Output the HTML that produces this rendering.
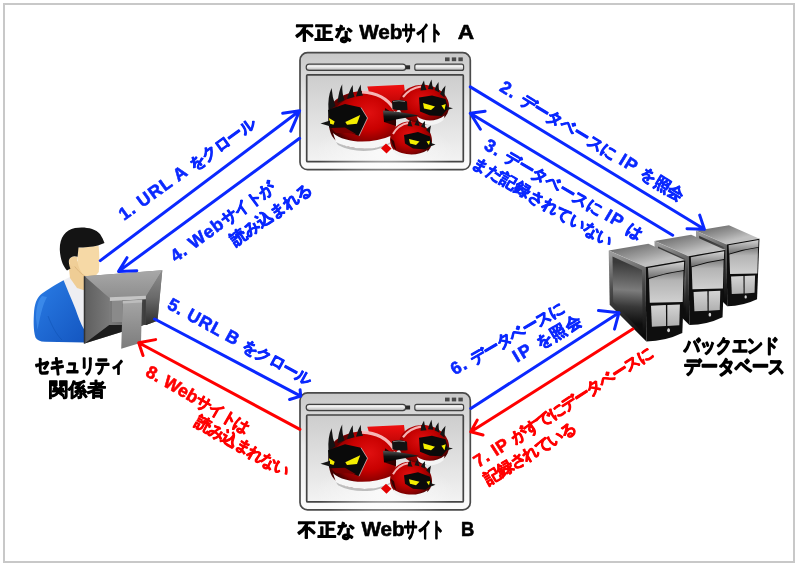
<!DOCTYPE html>
<html lang="ja"><head><meta charset="utf-8">
<style>
html,body{margin:0;padding:0;background:#fff;}
body{width:800px;height:568px;overflow:hidden;position:relative;font-family:"Liberation Sans",sans-serif;}
svg{position:absolute;left:0;top:0;will-change:transform;}
.t{font-family:"Liberation Sans",sans-serif;font-weight:bold;}
.lat{letter-spacing:1.0px;stroke-width:0.6px;font-size:1.1em;}
.kana{letter-spacing:-0.6px;}
.h .lat{font-size:1.1em;letter-spacing:1.5px;}
.L{stroke-width:0.6px;}
</style></head>
<body>
<svg width="800" height="568" viewBox="0 0 800 568">
<defs>
  <linearGradient id="frameG" x1="0" y1="0" x2="0" y2="1">
    <stop offset="0" stop-color="#c8c8c8"/><stop offset="0.2" stop-color="#d8d8d8"/><stop offset="0.45" stop-color="#ebebeb"/><stop offset="1" stop-color="#fcfcfc"/>
  </linearGradient>
  <linearGradient id="panelG" x1="0" y1="0" x2="0" y2="1">
    <stop offset="0" stop-color="#cdcdcd"/><stop offset="1" stop-color="#f3f3f3"/>
  </linearGradient>
  <linearGradient id="barG" x1="0" y1="0" x2="0" y2="1">
    <stop offset="0" stop-color="#dadada"/><stop offset="0.35" stop-color="#f2f2f2"/><stop offset="0.7" stop-color="#d2d2d2"/><stop offset="1" stop-color="#9c9c9c"/>
  </linearGradient>
  <radialGradient id="redG" cx="0.45" cy="0.38" r="0.62">
    <stop offset="0" stop-color="#e01010"/><stop offset="0.5" stop-color="#c00000"/><stop offset="0.85" stop-color="#800000"/><stop offset="1" stop-color="#400000"/>
  </radialGradient>
  <radialGradient id="redG1" cx="0.6" cy="0.38" r="0.6">
    <stop offset="0" stop-color="#e01010"/><stop offset="0.5" stop-color="#c80000"/><stop offset="0.85" stop-color="#880000"/><stop offset="1" stop-color="#440000"/>
  </radialGradient>
  <linearGradient id="blockG" x1="0" y1="0" x2="0" y2="1">
    <stop offset="0" stop-color="#f01010"/><stop offset="1" stop-color="#a80000"/>
  </linearGradient>
  <linearGradient id="hornG" x1="0" y1="0" x2="0" y2="1">
    <stop offset="0" stop-color="#555"/><stop offset="0.5" stop-color="#111"/><stop offset="1" stop-color="#000"/>
  </linearGradient>

  <linearGradient id="jacketG" x1="0" y1="0" x2="1" y2="1">
    <stop offset="0" stop-color="#2a7de6"/><stop offset="1" stop-color="#1456c0"/>
  </linearGradient>
  <linearGradient id="monTopG" x1="0" y1="0" x2="0" y2="1">
    <stop offset="0" stop-color="#a8a8a8"/><stop offset="1" stop-color="#8e8e8e"/>
  </linearGradient>
  <linearGradient id="monLeftG" x1="0" y1="0" x2="1" y2="0">
    <stop offset="0" stop-color="#5e5e5e"/><stop offset="1" stop-color="#7a7a7a"/>
  </linearGradient>
  <linearGradient id="standG" x1="0" y1="0" x2="0" y2="1">
    <stop offset="0" stop-color="#a6a6a6"/><stop offset="1" stop-color="#7c7c7c"/>
  </linearGradient>
  <linearGradient id="srvTopG" gradientUnits="userSpaceOnUse" x1="-10" y1="-22" x2="-5" y2="-2">
    <stop offset="0" stop-color="#767676"/><stop offset="0.6" stop-color="#a0a0a0"/><stop offset="1" stop-color="#c0c0c0"/>
  </linearGradient>
  <linearGradient id="srvLeftG" gradientUnits="userSpaceOnUse" x1="-30" y1="-14" x2="-10" y2="70">
    <stop offset="0" stop-color="#9a9a9a"/><stop offset="0.4" stop-color="#4a4a4a"/><stop offset="1" stop-color="#0a0a0a"/>
  </linearGradient>
  <linearGradient id="srvLeft2G" gradientUnits="userSpaceOnUse" x1="-16" y1="-4" x2="-20" y2="56">
    <stop offset="0" stop-color="#3a3a3a"/><stop offset="0.45" stop-color="#7c7c7c"/><stop offset="0.72" stop-color="#383838"/><stop offset="1" stop-color="#0e0e0e"/>
  </linearGradient>
  <linearGradient id="srvLipG" x1="0" y1="0" x2="0" y2="1">
    <stop offset="0" stop-color="#d4d4d4"/><stop offset="0.45" stop-color="#a6a6a6"/><stop offset="1" stop-color="#6e6e6e"/>
  </linearGradient>
  <linearGradient id="srvPanG" x1="0" y1="0" x2="0" y2="1">
    <stop offset="0" stop-color="#7e7e7e"/><stop offset="0.3" stop-color="#b4b4b4"/><stop offset="1" stop-color="#d0d0d0"/>
  </linearGradient>
  <linearGradient id="srvPan2G" x1="0" y1="0" x2="0" y2="1">
    <stop offset="0" stop-color="#d4d4d4"/><stop offset="1" stop-color="#b0b0b0"/>
  </linearGradient>
  <g id="srv">
    <path d="M-36.8 -16.5 L2.9 -23.3 L39.7 -6.8 L0 0 Z" fill="url(#srvTopG)"/>
    <path d="M-34 -15 L0 0 L39.7 -6.8" fill="none" stroke="#d0d0d0" stroke-width="0.9" opacity="0.8"/>
    <path d="M-36.8 -16.5 L0 0 L0.9 74.5 L-35.8 37.7 Z" fill="url(#srvLeftG)"/>
    <path d="M-33 -10.5 L-3.5 3 L-2.8 66 L-32.3 35 Z" fill="url(#srvLeft2G)"/>
    <path d="M0 0 L39.7 -6.8 L36.8 65.9 Q20 74 0.9 74.5 Z" fill="#0e0e0e"/>
    <path d="M2.5 1 L38.6 -5.4 L38.3 3 Q20 5.5 3 11 Z" fill="url(#srvLipG)"/>
    <path d="M3.5 12 Q20 6.5 38 4 L37.2 35 L4.3 35.6 Z" fill="url(#srvPanG)"/>
    <path d="M5.5 38.6 L20.4 38 L20.6 59 L6.4 59.6 Z" fill="url(#srvPan2G)"/>
    <path d="M21.8 37.9 L34.4 37.3 L33.8 58.2 L21.8 58.9 Z" fill="url(#srvPan2G)"/>
    <ellipse cx="23.1" cy="63.2" rx="1.4" ry="2" fill="#d8d8d8"/>
  </g>
  <radialGradient id="panelHL">
    <stop offset="0" stop-color="#fff" stop-opacity="0.7"/><stop offset="1" stop-color="#fff" stop-opacity="0"/>
  </radialGradient>
  <linearGradient id="monRightG" x1="0" y1="0" x2="0" y2="1">
    <stop offset="0" stop-color="#8e8e8e"/><stop offset="0.5" stop-color="#6a6a6a"/><stop offset="1" stop-color="#2e2e2e"/>
  </linearGradient>
  <linearGradient id="monInG" x1="0" y1="0" x2="1" y2="0">
    <stop offset="0" stop-color="#7c7c7c"/><stop offset="0.5" stop-color="#666"/><stop offset="1" stop-color="#3a3a3a"/>
  </linearGradient>
</defs>

<!-- outer frame -->
<rect x="4" y="4" width="790" height="558" fill="#fff" stroke="#c8c8c8" stroke-width="2"/>

<!-- ===== window A ===== -->
<g id="winA">
  <rect x="300" y="52.7" width="170.3" height="117" rx="7.5" fill="url(#frameG)" stroke="#4a4a4a" stroke-width="1.7"/>
  <rect x="445" y="57.4" width="4.6" height="3.8" fill="#4a4a4a"/>
  <rect x="451.8" y="57.4" width="4.4" height="3.8" fill="#4a4a4a"/>
  <rect x="458.4" y="57.4" width="4.4" height="3.8" fill="#4a4a4a"/>
  <rect x="306.2" y="64.2" width="99.5" height="6.2" rx="3" fill="url(#barG)" stroke="#404040" stroke-width="1.2"/>
  <rect x="405.8" y="65.3" width="4.3" height="4" fill="#2a2a2a"/>
  <rect x="414.8" y="64.2" width="48.8" height="6.2" rx="2" fill="url(#barG)" stroke="#404040" stroke-width="1.2"/>
  <rect x="306.7" y="74.8" width="156.6" height="86.9" rx="1" fill="url(#panelG)" stroke="#444" stroke-width="1.7"/>
  <ellipse cx="385" cy="152" rx="70" ry="30" fill="url(#panelHL)"/>
  <g id="monsters">
    <!-- red block behind -->
    <path d="M367.3 86.5 L404 84.7 L406 101 L396 112 L385 106 L372 102 Z" fill="url(#blockG)"/>
    <!-- M2 -->
    <g>
      <path d="M399 104 C399 92 410 85 422 84.7 C437 84.5 449 95 449 106 C449 117 440 124 426 124.5 C412 125 399 117 399 104 Z" fill="url(#redG)"/>
      <path d="M403 97 Q410 88 421 86.5" stroke="#ffd2d2" stroke-width="2.2" fill="none" opacity="0.85"/>
      <path d="M420.5 90.5 Q421.5 84 424 80.5 Q424.5 86 426.5 90 Z" fill="#141414"/>
      <path d="M428 89 Q429.5 83 431.5 79.5 Q432 85.5 433.5 89.5 Z" fill="#141414"/>
      <path d="M434.5 90 Q436 85 438.5 82 Q438.5 88 439.5 92.5 Z" fill="#141414"/>
      <path d="M440 94 Q442 89 445.5 85.5 Q444.5 92 444.5 97.5 Z" fill="#141414"/>
      <path d="M417 116.5 C425 122 436 122 444.5 115.5 L443.5 120 C436 126.5 425 126.5 418.5 121 Z" fill="#f4f4f4"/>
      <path d="M419 97.5 L432 95.5 L445.5 99 L448 108.5 L441.5 116 L430 115.5 L420 111.5 Z" fill="#0a0a0a"/>
      <path d="M423 103 L435 106.5 L431 110 L424 108.5 Z" fill="#f5ee00"/>
      <path d="M441.4 105.5 L445.8 104 L444.5 110 Z" fill="#f5ee00"/>
      <path d="M447 106.8 L453 108.3 L447 110 Z" fill="#141414"/>
    </g>
    <!-- M1 -->
    <g>
      <path d="M329 112 C330 100 345 92 362 91 C380 90 394 102 396 120 C397 135 388 146 372 148 C355 150 338 146 332 136 C328 128 328 118 329 112 Z" fill="url(#redG1)"/>
      <path d="M329.5 110 C333 101 343 95 352 93 L353 97 C345 99 338 104 333 112 Z" fill="#4a0000" opacity="0.7"/>
      <path d="M328.5 110.5 Q327.5 97 331.6 88.1 Q332.3 98 335.5 106 Z" fill="#141414"/>
      <path d="M337.5 103 Q338.5 91 342.2 84.2 Q342 94 344.5 100 Z" fill="#141414"/>
      <path d="M347 99 Q349.5 90 352.7 85 Q352.5 92 354.5 97 Z" fill="#141414"/>
      <path d="M356 96.5 Q358 89 360.7 84.6 Q360.5 91 363 95.5 Z" fill="#141414"/>
      <path d="M385 108 Q392 112 396 118 L396 126 Q390 124 384 122 Z" fill="#1a0000" opacity="0.85"/>
      <path d="M362 92 Q384 93 394 109" stroke="#ffd6d6" stroke-width="3.2" fill="none" opacity="0.85"/>
      <path d="M333 133 C345 143 370 145 393 135 L391.5 141.5 C380 150 355 152 336 142 Z" fill="#f6f6f6"/>
      <path d="M336 142 C355 152 380 150 391.5 141.5 L390 144 C378 152 355 154 338 145 Z" fill="#bdbdbd"/>
      <path d="M328 110 L345 104 L361 107.5 L367.5 118 L359 136 L347 131 L336 131 L329 127 Z" fill="#0a0a0a"/>
      <path d="M361 107.5 L367.5 118 L359 136" stroke="#e8e8e8" stroke-width="0.8" fill="none" opacity="0.8"/>
      <path d="M331 128 L345 127.5 L356 134 L347 133 L336 133 Z" fill="#7a0000"/>
      <path d="M345.3 122 L360.2 115 L357 123.8 L347 124.8 Z" fill="#f5ee00"/>
      <path d="M329 118 L334.7 121.5 L333.5 124.8 L329.5 123.5 Z" fill="#f5ee00"/>
      <path d="M320.5 123.5 L330 120.6 L330 126.2 Z" fill="#141414"/>
    </g>
    <!-- horn -->
    <path d="M392 101 Q398 99 407 101.5 L407.5 110 Q399 111 392.5 109 Z" fill="#121212"/>
    <path d="M393 101.5 Q399 100 405 101.5" stroke="#777" stroke-width="1" fill="none"/>
    <path d="M383 110.5 Q400 111.5 419 115.5 Q400 118.5 384 122 Z" fill="url(#hornG)"/>
    <!-- M3 -->
    <g>
      <path d="M381 148.3 L386 143.5 L391.5 148.5 L386.5 153.5 Z" fill="#e40000"/>
      <path d="M390 140 C390 129 399 121.5 410 121.5 C423 121.5 432 130 432 141 C432 151 423 157 411 157 C399 157 390 150 390 140 Z" fill="url(#redG)"/>
      <path d="M393 134 Q398 125 408 123" stroke="#ffd2d2" stroke-width="2" fill="none" opacity="0.85"/>
      <path d="M407.5 126 Q408.5 122 410.5 119.5 Q411 123.5 412.5 126.5 Z" fill="#141414"/>
      <path d="M414.5 125 Q416 121 418 118.5 Q418 122.5 419.5 126 Z" fill="#141414"/>
      <path d="M421 126.5 Q422.5 123 425 121 Q424.5 125 425.5 128.5 Z" fill="#141414"/>
      <path d="M426 130 Q428 127.5 431 125.5 Q430 129.5 430 133.5 Z" fill="#141414"/>
      <path d="M390.5 138 Q392 146 396 150 L394 141 Z" fill="#1a0000" opacity="0.8"/>
      <path d="M393.5 149 C402 155.5 418 156.5 427.5 150 L426.5 154 C418 159.5 402 159.5 395 153.5 Z" fill="#f4f4f4"/>
      <path d="M404 135 L418 132 L430 136.5 L432 145 L425.5 149.5 L413 148.5 L405 143.5 Z" fill="#0a0a0a"/>
      <path d="M409 139 L419.5 141.5 L416 145 L410 143.5 Z" fill="#f5ee00"/>
      <path d="M426.5 141.5 L430 140.8 L429 145 Z" fill="#f5ee00"/>
      <path d="M431 143 L435.5 144.5 L431 146.2 Z" fill="#141414"/>
    </g>
  </g>
</g>
<!-- ===== window B (copy) ===== -->
<use href="#winA" transform="translate(0,340.2)"/>

<!-- ===== person ===== -->
<g id="person">
  <!-- shirt -->
  <path d="M62 281 L70 277 L84.5 288 L84.5 330 C80 322 78 316 75.3 308.4 C71 298 67 289 62 281 Z" fill="#eeeef2"/>
  <!-- jacket -->
  <path d="M63.6 280.3 C55 285 47 290 42.4 293.3 C38 296 35 302 34.1 311 C33.5 320 33.2 330 35.5 337.5 C37 340 40 341.8 45 341.8 L84.5 342.5 L84.5 330 C80 322 78 316 75.3 308.4 C71 298 67 289 63.6 280.3 Z" fill="url(#jacketG)"/>
  <path d="M42 296 C38 300 36 308 36 318 L37.5 330 C40 318 42 306 47 297 Z" fill="#4c9af4" opacity="0.55"/>
  <path d="M48 316 C52 326 56 334 62 340" stroke="#0e4fb0" stroke-width="1" fill="none" opacity="0.5"/>
  <!-- neck -->
  <path d="M68.5 264 L77.5 261 L88 278 L86.5 291 L77 288 L70 278 Z" fill="#efcd95"/>
  <!-- face -->
  <path d="M77.5 248 L98.5 245.8 C99.5 252 99.5 262 98.8 272 C96 276 92 278.5 88 279.2 C82 275 78.5 268 77.5 262 Z" fill="#f6d9a6"/>
  <path d="M73 264 C77 270 81 274 86.5 277" stroke="#d9b27a" stroke-width="0.8" fill="none"/>
  <!-- ear -->
  <path d="M77.5 257 C72 255.5 68.5 258 69 262 C69.5 265.5 72.5 267 76.5 266.5 Z" fill="#f0cf98"/>
  <!-- hair -->
  <path d="M67 270.5 C63 266 60.5 260 59.8 250 C59.5 238 65 230 75 228 C84 226.5 95 228 100 234 C102 237 103.5 240 104.5 243 L98 245.5 C92 247 84 247.5 78.5 247.5 L77.6 256.8 C74 255.5 70.5 256.5 69 260 C68.5 263 69.5 266.5 70.5 268.5 Z" fill="#141414"/>
  <!-- monitor -->
  <path d="M84.5 276.2 L162.3 270.2 L157.5 320.7 L84.5 343.6 Z" fill="#7d7d7d"/>
  <path d="M84.5 276.2 L162.3 270.2 L145.9 296.4 L109.2 297.9 Z" fill="url(#monTopG)"/>
  <path d="M84.5 276.2 L109.2 297.9 L109.2 324.9 L84.5 343.6 Z" fill="url(#monLeftG)"/>
  <path d="M162.3 270.2 L157.5 320.7 L145.9 324.9 L145.9 296.4 Z" fill="url(#monRightG)"/>
  <path d="M109.2 324.9 L145.9 324.9 L157.5 320.7 L84.5 343.6 Z" fill="#1c1c1c"/>
  <rect x="109.2" y="297.9" width="36.7" height="27" fill="url(#monInG)"/>
  <rect x="112" y="300" width="10" height="22" fill="#8a8a8a"/>
  <path d="M84.5 276.2 L84.5 343.6" stroke="#333" stroke-width="1.5"/>
  <!-- stand -->
  <path d="M122.7 300.9 L142.1 299.8 L141 342.8 L121.2 348.8 Z" fill="url(#standG)"/>
  <path d="M109.9 297.2 L145.9 295.8 L145.9 299.3 L109.9 300.9 Z" fill="#c4c4c4"/>
  <path d="M122.7 300.9 L142.1 299.8 L142.1 302.5 L122.7 303.5 Z" fill="#bdbdbd"/>
</g>

<!-- ===== servers ===== -->
<g id="srvdefs" style="display:none"></g>
<use href="#srv" transform="translate(726.5,244.5) scale(0.83)"/>
<use href="#srv" transform="translate(688.5,256.2) scale(0.925)"/>
<use href="#srv" transform="translate(645.5,267.1)"/>

<!-- ===== arrows ===== -->
<g fill="none" stroke-width="3" stroke-linecap="round" stroke-linejoin="round">
  <g stroke="#0a28ff">
    <path d="M100.3 260.6 L299.6 110.8 M282.7 113.2 L299.6 110.8 L290.8 131.1"/>
    <path d="M299.6 138.3 L118.6 271.4 M127 257.7 L118.6 271.4 L136.8 270.7"/>
    <path d="M470.3 86.9 L704.4 229.3 M699.7 215.1 L704.4 229.3 L687 228.8"/>
    <path d="M672.7 235.2 L470.3 113.3 M485.1 111.2 L470.3 113.3 L480.4 129.2"/>
    <path d="M154.6 319 L300.7 396.1 M300.1 389.8 L300.7 396.1 L289.6 399.5"/>
    <path d="M470.8 408.5 L619 312.7 M598.5 310.6 L619 312.7 L614.5 329.1"/>
  </g>
  <g stroke="#ff0000">
    <path d="M299.9 429.4 L138.7 342.8 M155.6 339.6 L138.7 342.8 L143 355.5"/>
    <path d="M632.8 329.1 L470.8 431.8 M477.2 420.1 L470.8 431.8 L483 435"/>
  </g>
</g>

<!-- ===== text ===== -->
<g class="t" stroke-linejoin="round" style="paint-order:stroke">
<text transform="translate(123.9,221.1) rotate(-35.65)" font-size="16" fill="#0a28ff" stroke="#0a28ff" stroke-width="0.8" textLength="163.1" lengthAdjust="spacing"><tspan class="lat">1. URL A </tspan><tspan class="kana">をクロール</tspan></text>
<text transform="translate(175.7,262.8) rotate(-36.2)" font-size="16" fill="#0a28ff" stroke="#0a28ff" stroke-width="0.8" textLength="123.5" lengthAdjust="spacing"><tspan class="lat">4. Web</tspan><tspan class="kana">サイトが</tspan></text>
<text transform="translate(234.9,246.0) rotate(-34.52)" font-size="16" fill="#0a28ff" stroke="#0a28ff" stroke-width="0.8" textLength="94.7" lengthAdjust="spacing">読<tspan class="kana">み</tspan>込<tspan class="kana">まれる</tspan></text>
<text transform="translate(498.5,90.3) rotate(31.46)" font-size="16" fill="#0a28ff" stroke="#0a28ff" stroke-width="0.8" textLength="212.9" lengthAdjust="spacing"><tspan class="lat">2. </tspan><tspan class="kana">データベースに</tspan><tspan class="lat"> IP </tspan><tspan class="kana">を</tspan>照会</text>
<text transform="translate(483.0,148.5) rotate(30.28)" font-size="16" fill="#0a28ff" stroke="#0a28ff" stroke-width="0.8" textLength="180.1" lengthAdjust="spacing"><tspan class="lat">3. </tspan><tspan class="kana">データベースに</tspan><tspan class="lat"> IP </tspan><tspan class="kana">は</tspan></text>
<text transform="translate(471.4,165.9) rotate(30.54)" font-size="16" fill="#0a28ff" stroke="#0a28ff" stroke-width="0.8" textLength="159.1" lengthAdjust="spacing"><tspan class="kana">まだ</tspan>記録<tspan class="kana">されていない</tspan></text>
<text transform="translate(166.2,308.0) rotate(28.58)" font-size="16" fill="#0a28ff" stroke="#0a28ff" stroke-width="0.8" textLength="161.4" lengthAdjust="spacing"><tspan class="lat">5. URL B </tspan><tspan class="kana">をクロール</tspan></text>
<text transform="translate(454.8,375.6) rotate(-30.17)" font-size="16" fill="#0a28ff" stroke="#0a28ff" stroke-width="0.8" textLength="127.9" lengthAdjust="spacing"><tspan class="lat">6. </tspan><tspan class="kana">データベースに</tspan></text>
<text transform="translate(517.0,362.7) rotate(-30.54)" font-size="16" fill="#0a28ff" stroke="#0a28ff" stroke-width="0.8" textLength="76.1" lengthAdjust="spacing"><tspan class="lat">IP </tspan><tspan class="kana">を</tspan>照会</text>
<text transform="translate(144.6,375.3) rotate(30.02)" font-size="16" fill="#ff0000" stroke="#ff0000" stroke-width="0.8" textLength="116.5" lengthAdjust="spacing"><tspan class="lat">8. Web</tspan><tspan class="kana">サイトは</tspan></text>
<text transform="translate(194.1,425.1) rotate(29.37)" font-size="16" fill="#ff0000" stroke="#ff0000" stroke-width="0.8" textLength="105.0" lengthAdjust="spacing">読<tspan class="kana">み</tspan>込<tspan class="kana">まれない</tspan></text>
<text transform="translate(478.2,467.9) rotate(-32.53)" font-size="16" fill="#ff0000" stroke="#ff0000" stroke-width="0.8" textLength="208.1" lengthAdjust="spacing"><tspan class="lat">7. IP </tspan><tspan class="kana">がすでにデータベースに</tspan></text>
<text transform="translate(487.7,484.5) rotate(-30.79)" font-size="16" fill="#ff0000" stroke="#ff0000" stroke-width="0.8" textLength="103.9" lengthAdjust="spacing">記録<tspan class="kana">されている</tspan></text>
<text class="h" x="35" y="372.3" font-size="19.2" fill="#000" stroke="#000" stroke-width="1.4" textLength="89.5" lengthAdjust="spacingAndGlyphs">セキュリティ</text>
<text class="h" x="48.75" y="395.5" font-size="18.6" fill="#000" stroke="#000" stroke-width="0.9" textLength="57" lengthAdjust="spacingAndGlyphs">関係者</text>
<text class="h" x="684.1" y="352.0" font-size="18.8" fill="#000" stroke="#000" stroke-width="1.4" textLength="95" lengthAdjust="spacingAndGlyphs">バックエンド</text>
<text class="h" x="684.1" y="373.3" font-size="18.8" fill="#000" stroke="#000" stroke-width="1.4" textLength="101.2" lengthAdjust="spacingAndGlyphs">データベース</text>
<g fill="#000" stroke="#000" stroke-width="1.3">
<text y="38.6"><tspan x="296.1" font-size="17.8" textLength="56.5" lengthAdjust="spacing">不正な</tspan> <tspan class="L" x="359.2" font-size="19.5" textLength="43.2" lengthAdjust="spacingAndGlyphs">Web</tspan><tspan x="402.2" font-size="19.5" textLength="40" lengthAdjust="spacingAndGlyphs">サイト</tspan> <tspan class="L" x="457.8" font-size="19.5" textLength="16.4" lengthAdjust="spacingAndGlyphs">A</tspan></text>
<text y="536.2"><tspan x="298.3" font-size="17.8" textLength="56.5" lengthAdjust="spacing">不正な</tspan> <tspan class="L" x="361.4" font-size="19.5" textLength="43.2" lengthAdjust="spacingAndGlyphs">Web</tspan><tspan x="404.4" font-size="19.5" textLength="40" lengthAdjust="spacingAndGlyphs">サイト</tspan> <tspan class="L" x="461.0" font-size="19.5" textLength="13.3" lengthAdjust="spacingAndGlyphs">B</tspan></text>
</g>
</g>
</svg>
</body></html>
